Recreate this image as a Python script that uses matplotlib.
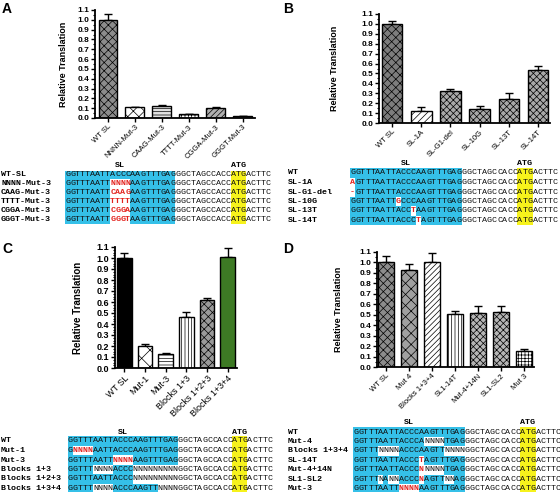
import matplotlib
matplotlib.use("Agg")
import matplotlib.pyplot as plt
from matplotlib.patches import Rectangle
from matplotlib.ticker import MultipleLocator

plt.rcParams['font.family'] = 'Liberation Sans'
plt.rcParams['hatch.linewidth'] = 0.5

W, H = 560, 492

# ---------------- bar data ----------------
A_labels = ["WT SL", "NNNN-Mut-3", "CAAG-Mut-3", "TTTT-Mut-3", "CGGA-Mut-3", "GGGT-Mut-3"]
A_vals = [1.00, 0.108, 0.122, 0.037, 0.106, 0.02]
A_err = [0.06, 0.006, 0.012, 0.004, 0.004, 0.003]

B_labels = ["WT SL", "SL-1A", "SL-G1-del", "SL-10G", "SL-13T", "SL-14T"]
B_vals = [1.00, 0.118, 0.32, 0.14, 0.245, 0.535]
B_err = [0.03, 0.042, 0.02, 0.036, 0.061, 0.045]

C_labels = ["WT SL", "Mut-1", "Mut-3", "Blocks 1+3", "Blocks 1+2+3", "Blocks 1+3+4"]
C_vals = [1.00, 0.20, 0.123, 0.462, 0.616, 1.005]
C_err = [0.045, 0.016, 0.012, 0.048, 0.024, 0.09]

D_labels = ["WT SL", "Mut 4", "Blocks 1+3+4", "SL1-14T", "Mut-4+14N", "SL1-SL2", "Mut 3"]
D_vals = [1.00, 0.93, 1.005, 0.506, 0.516, 0.525, 0.156]
D_err = [0.06, 0.054, 0.09, 0.032, 0.064, 0.058, 0.016]

# bar styles (facecolor, hatch)
A_style = [("#8c8c8c", "xxxx"), ("white", "xxx"), ("#e0e0e0", "-----"),
           ("white", "+++++"), ("#b0b0b0", "//////"), ("#8a8a8a", "")]
B_style = [("#7d7d7d", "xxxx"), ("white", "/////"), ("#a8a8a8", "xxxxx"),
           ("#a8a8a8", "xxxxx"), ("#a8a8a8", "xxxxx"), ("#a8a8a8", "xxxxx")]
C_style = [("black", ""), ("white", "xx"), ("white", "-----"),
           ("white", "|||||"), ("#9a9a9a", "xxxx"), ("#3d7a24", "")]
D_style = [("#8c8c8c", "xxxx"), ("#a0a0a0", "xxx"), ("white", "//////"),
           ("white", "|||||"), ("#b5b5b5", "xxxxx"), ("#b5b5b5", "xxxxx"),
           ("white", "+++++")]

# ---------------- alignment data ----------------
tail = "GGCTAGCCACCATGACTTC"

A_names = ["WT-SL", "NNNN-Mut-3", "CAAG-Mut-3", "TTTT-Mut-3", "CGGA-Mut-3", "GGGT-Mut-3"]
A_sl = ["GGTTTAATTACCCAAGTTTGAG", "GGTTTAATTNNNNAAGTTTGAG", "GGTTTAATTCAAGAAGTTTGAG",
        "GGTTTAATTTTTTAAGTTTGAG", "GGTTTAATTCGGAAAGTTTGAG", "GGTTTAATTGGGTAAGTTTGAG"]
A_mask = ["c" * 22] + ["c" * 9 + "r" * 4 + "c" * 9] * 5

B_names = ["WT", "SL-1A", "SL-G1-del", "SL-10G", "SL-13T", "SL-14T"]
B_sl = ["GGTTTAATTACCCAAGTTTGAG", "AGTTTAATTACCCAAGTTTGAG", "-GTTTAATTACCCAAGTTTGAG",
        "GGTTTAATTGCCCAAGTTTGAG", "GGTTTAATTACCTAAGTTTGAG", "GGTTTAATTACCCTAGTTTGAG"]
B_mask = ["c" * 22, "r" + "c" * 21, "r" + "c" * 21,
          "c" * 9 + "r" + "c" * 12, "c" * 12 + "r" + "c" * 9, "c" * 13 + "r" + "c" * 8]

C_names = ["WT", "Mut-1", "Mut-3", "Blocks 1+3", "Blocks 1+2+3", "Blocks 1+3+4"]
C_sl = ["GGTTTAATTACCCAAGTTTGAG", "GNNNNAATTACCCAAGTTTGAG", "GGTTTAATTNNNNAAGTTTGAG",
        "GGTTTNNNNACCCNNNNNNNNN", "GGTTTAATTACCCNNNNNNNNN", "GGTTTNNNNACCCAAGTTNNNN"]
C_mask = ["c" * 22, "c" + "r" * 4 + "c" * 17, "c" * 9 + "r" * 4 + "c" * 9,
          "c" * 5 + "w" * 4 + "c" * 4 + "w" * 9, "c" * 13 + "w" * 9,
          "c" * 5 + "w" * 4 + "c" * 9 + "w" * 4]

D_names = ["WT", "Mut-4", "Blocks 1+3+4", "SL-14T", "Mut-4+14N", "SL1-SL2", "Mut-3"]
D_sl = ["GGTTTAATTACCCAAGTTTGAG", "GGTTTAATTACCCANNNNTGAG", "GGTTTNNNNACCCAAGTTNNNN",
        "GGTTTAATTACCCTAGTTTGAG", "GGTTTAATTACCCNNNNNTGAG", "GGTTTNANNACCCNAGTTNNAG",
        "GGTTTAATTNNNNAAGTTTGAG"]
D_mask = ["c" * 22, "c" * 14 + "w" * 4 + "c" * 4, "c" * 5 + "w" * 4 + "c" * 9 + "w" * 4,
          "c" * 13 + "r" + "c" * 8, "c" * 13 + "r" + "w" * 4 + "c" * 4,
          "c" * 5 + "w" + "c" + "w" * 2 + "c" * 4 + "r" + "c" * 4 + "w" * 2 + "c" * 2,
          "c" * 9 + "r" * 4 + "c" * 9]

CYAN = "#35c0e8"
YELLOW = "#f6f21c"
RED = "#e3231e"


def fx(x):
    return x / W


def fy(y):
    return 1 - y / H


fig = plt.figure(figsize=(W / 100, H / 100), dpi=100)


def bar_panel(rect, labels, vals, errs, styles, xlim, fs_tick, fs_lab, fs_x, ylab_x, minor):
    left, top, right, bottom = rect
    ax = fig.add_axes([fx(left), fy(bottom), fx(right - left), (bottom - top) / H])
    x = list(range(len(vals)))
    for i in x:
        fc, hatch = styles[i]
        ax.bar(i, vals[i], width=0.7, color=fc, edgecolor="black", hatch=hatch,
               linewidth=1.0, zorder=2)
    ax.errorbar(x, vals, yerr=[[0] * len(vals), errs], fmt="none", ecolor="black",
                elinewidth=1.0, capsize=3, capthick=1.0, zorder=1, clip_on=False)
    ax.set_xlim(*xlim)
    ax.set_ylim(0, 1.1)
    ax.yaxis.set_minor_locator(MultipleLocator(minor))
    ax.set_yticks([i / 10 for i in range(12)])
    ax.set_yticklabels(["%.1f" % (i / 10) for i in range(12)], fontsize=fs_tick, fontweight="bold")
    ax.set_xticks(x)
    ax.set_xticklabels(labels, rotation=45, ha="right", rotation_mode="anchor", fontsize=fs_x)
    ax.tick_params(axis="y", which="major", length=3, width=1, pad=1)
    ax.tick_params(axis="y", which="minor", length=1.5, width=0.8)
    ax.tick_params(axis="x", length=3, width=1, pad=1)
    for s in ["top", "right"]:
        ax.spines[s].set_visible(False)
    for s in ["left", "bottom"]:
        ax.spines[s].set_linewidth(1.3)
    ax.set_ylabel("Relative Translation", fontsize=fs_lab, fontweight="bold")
    ax.yaxis.set_label_coords(ylab_x, 0.5)
    return ax


def alignment(names, sl, mask, x_name, x0, y0, dy, cw, y_head):
    fs = 6.0
    seqs = [s + tail for s in sl]
    for r, (name, seq, m) in enumerate(zip(names, seqs, mask)):
        yc = y0 + r * dy
        style = m + " " * 11 + "y" * 3 + " " * 5
        # background runs
        i = 0
        while i < len(style):
            j = i
            while j < len(style) and style[j] == style[i]:
                j += 1
            if style[i] in "cy":
                col = CYAN if style[i] == "c" else YELLOW
                fig.add_artist(Rectangle((fx(x0 + i * cw), fy(yc + dy / 2)),
                                         (j - i) * cw / W, dy / H,
                                         transform=fig.transFigure, facecolor=col,
                                         edgecolor="none", zorder=0))
            i = j
        for i, ch in enumerate(seq):
            col = RED if style[i] == "r" else "#111111"
            fw = "bold" if style[i] == "r" else "normal"
            fig.text(fx(x0 + (i + 0.5) * cw), fy(yc), ch, ha="center", va="center",
                     family="Liberation Mono", size=fs, color=col, fontweight=fw)
        fig.text(fx(x_name), fy(yc), name, ha="left", va="center",
                 family="Liberation Mono", size=fs, fontweight="bold")
    fig.text(fx(x0 + 11 * cw), fy(y_head), "SL", ha="center", va="center",
             family="Liberation Mono", size=fs, fontweight="bold")
    fig.text(fx(x0 + 34.5 * cw), fy(y_head), "ATG", ha="center", va="center",
             family="Liberation Mono", size=fs, fontweight="bold")


# panel A
bar_panel((95, 10, 255, 118), A_labels, A_vals, A_err, A_style, (-0.48, 5.45),
          6, 6.5, 5.5, -0.17, 0.05)
alignment(A_names, A_sl, A_mask, 1, 65, 175, 8.9, 5.02, 165)

# panel B
bar_panel((379, 14, 550, 123), B_labels, B_vals, B_err, B_style, (-0.45, 5.41),
          6, 6.5, 5.5, -0.234, 0.05)
alignment(B_names, B_sl, B_mask, 288, 350, 173, 9.5, 5.07, 164)

# panel C
bar_panel((115, 247, 237, 368), C_labels, C_vals, C_err, C_style, (-0.46, 5.46),
          6.5, 7, 6.5, -0.26, 0.025)
alignment(C_names, C_sl, C_mask, 1, 68, 441, 9.5, 4.98, 432)

# panel D
bar_panel((377, 252, 534, 367), D_labels, D_vals, D_err, D_style, (-0.38, 6.45),
          6, 6.5, 5.5, -0.217, 0.05)
alignment(D_names, D_sl, D_mask, 288, 353, 432, 9.45, 5.07, 423)

# panel letters
for lab, x, y in [("A", 2, 9), ("B", 283, 9), ("C", 2, 249), ("D", 283, 249)]:
    fig.text(fx(x), fy(y), lab, ha="left", va="center", fontsize=10, fontweight="bold")

fig.savefig("out.png", dpi=100)
